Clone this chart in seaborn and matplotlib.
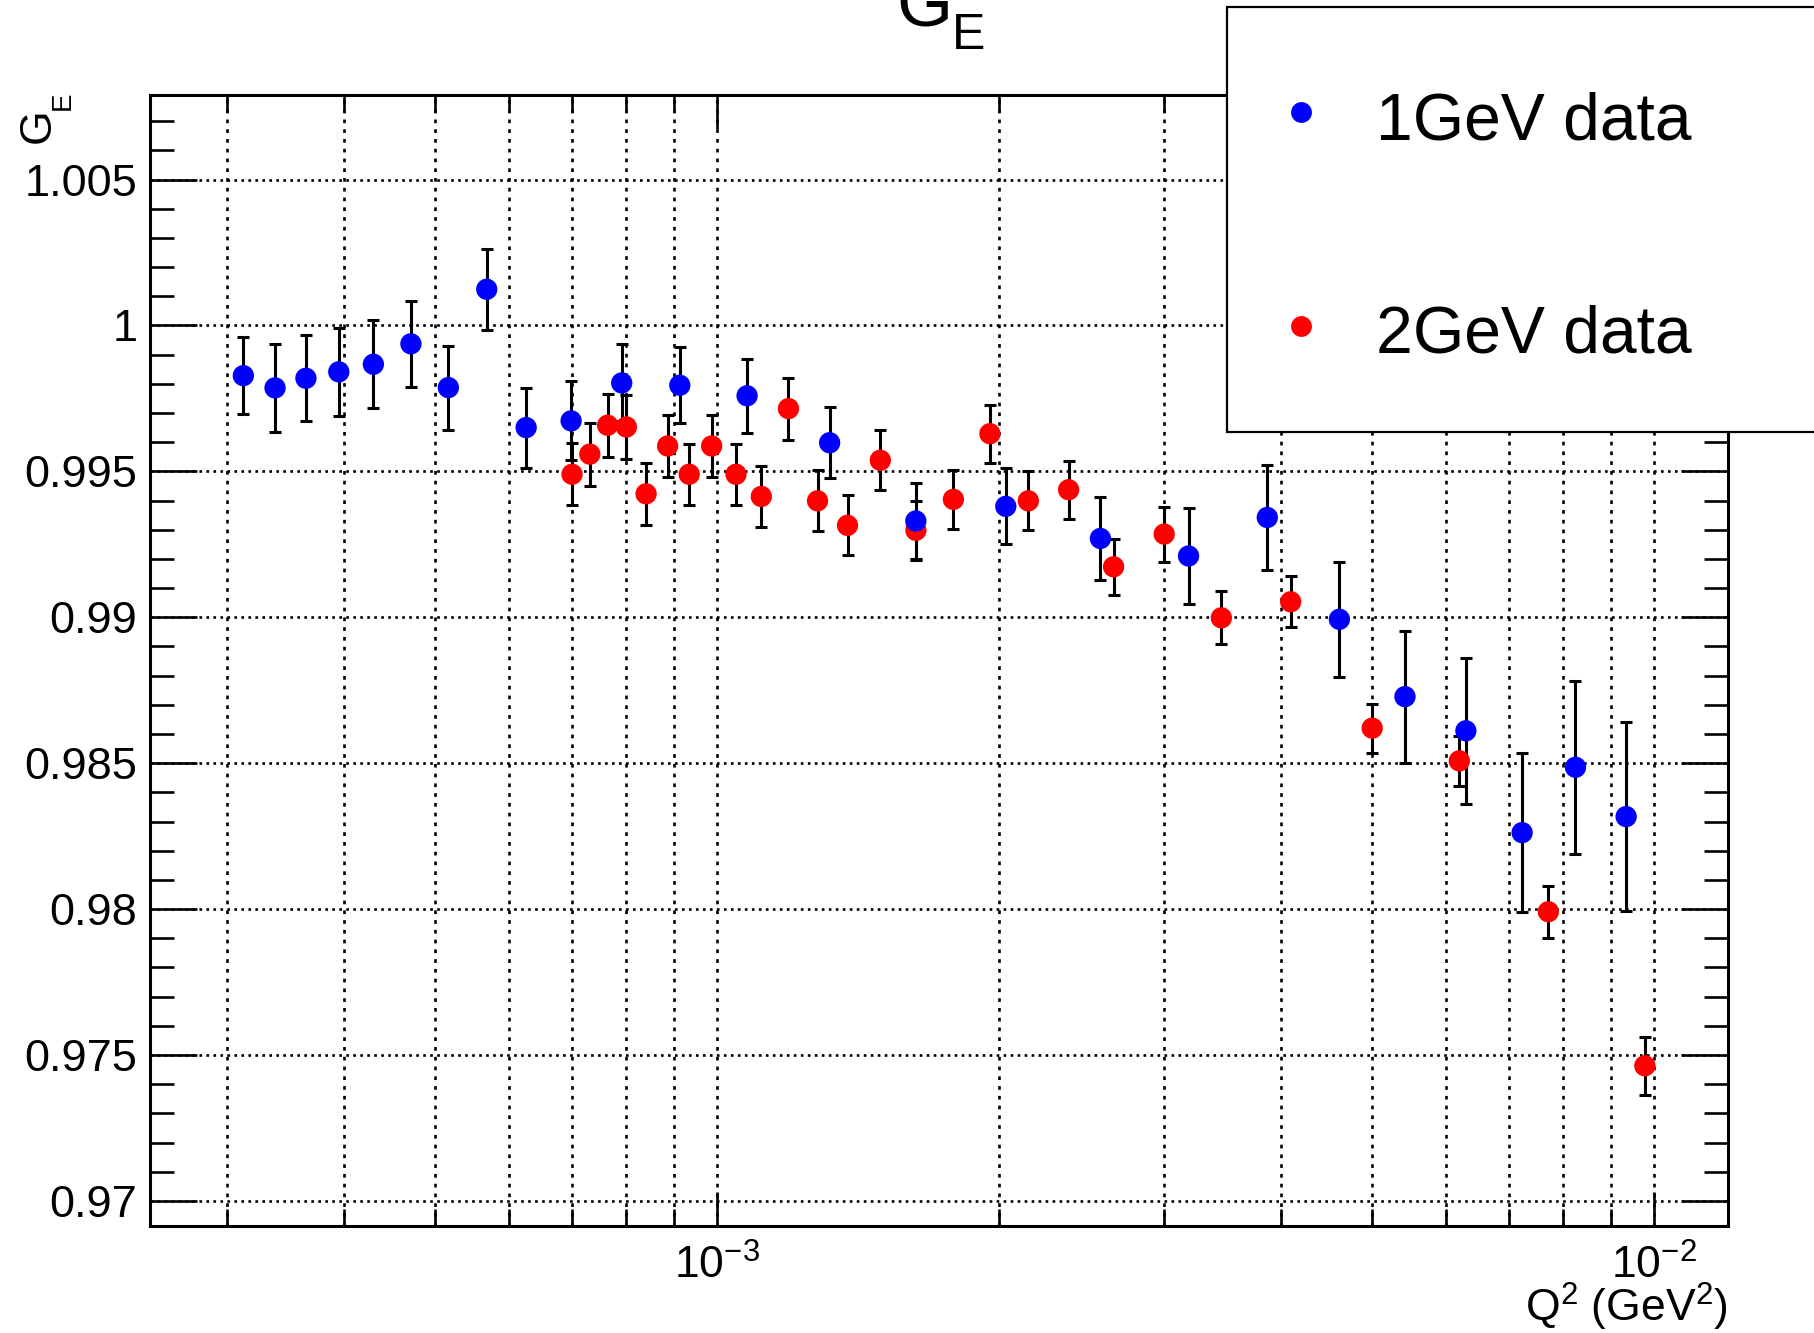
import numpy as np
import pandas as pd
import matplotlib
matplotlib.use("Agg")
import matplotlib.pyplot as plt
from matplotlib.ticker import MultipleLocator, FuncFormatter, LogLocator, NullFormatter
from matplotlib.patches import Rectangle
from matplotlib.lines import Line2D
import seaborn as sns

# ---- data -------------------------------------------------------------
series_names = ["1GeV data", "2GeV data"]
series_colors = ["#0000ff", "#ff0000"]

q2_1gev = [3.12e-4, 3.373e-4, 3.639e-4, 3.945e-4, 4.295e-4, 4.710e-4, 5.164e-4,
           5.675e-4, 6.252e-4, 6.982e-4, 7.907e-4, 9.120e-4, 1.076e-3, 1.318e-3,
           1.629e-3, 2.032e-3, 2.564e-3, 3.184e-3, 3.864e-3, 4.613e-3, 5.420e-3,
           6.295e-3, 7.228e-3, 8.241e-3, 9.333e-3]
ge_1gev = [0.99828, 0.99786, 0.99819, 0.99841, 0.99867, 0.99937, 0.99787,
           1.00124, 0.99650, 0.99673, 0.99803, 0.99795, 0.99759, 0.99598,
           0.99330, 0.99380, 0.99270, 0.99210, 0.99342, 0.98993, 0.98728,
           0.98611, 0.98262, 0.98486, 0.98317]
err_1gev = [0.00132, 0.00150, 0.00148, 0.00150, 0.00150, 0.00148, 0.00144,
            0.00139, 0.00137, 0.00135, 0.00132, 0.00130, 0.00127, 0.00121,
            0.00130, 0.00130, 0.00141, 0.00164, 0.00181, 0.00198, 0.00226,
            0.00250, 0.00272, 0.00297, 0.00324]

q2_2gev = [6.998e-4, 7.311e-4, 7.638e-4, 7.998e-4, 8.395e-4, 8.851e-4, 9.333e-4,
           9.863e-4, 1.0471e-3, 1.1143e-3, 1.1912e-3, 1.2794e-3, 1.3772e-3,
           1.4928e-3, 1.6293e-3, 1.7865e-3, 1.9543e-3, 2.1478e-3, 2.3714e-3,
           2.6485e-3, 2.9992e-3, 3.4514e-3, 4.0926e-3, 5.0003e-3, 6.1944e-3,
           7.7090e-3, 9.7724e-3]
ge_2gev = [0.99490, 0.99559, 0.99658, 0.99652, 0.99423, 0.99587, 0.99490,
           0.99587, 0.99490, 0.99414, 0.99715, 0.99399, 0.99315, 0.99538,
           0.99298, 0.99404, 0.99629, 0.99399, 0.99437, 0.99173, 0.99285,
           0.98998, 0.99053, 0.98620, 0.98508, 0.97991, 0.97463]
err_2gev = [0.00107, 0.00108, 0.00108, 0.00108, 0.00106, 0.00105, 0.00105,
            0.00105, 0.00105, 0.00105, 0.00106, 0.00104, 0.00103, 0.00103,
            0.00102, 0.00101, 0.00100, 0.00101, 0.00099, 0.00096, 0.00094,
            0.00091, 0.00088, 0.00084, 0.00085, 0.00089, 0.00100]

# 2 GeV rows first so the 1 GeV markers sit on top where they overlap
df = pd.concat([
    pd.DataFrame({"Q2": q2_2gev, "GE": ge_2gev, "err": err_2gev, "set": series_names[1]}),
    pd.DataFrame({"Q2": q2_1gev, "GE": ge_1gev, "err": err_1gev, "set": series_names[0]}),
], ignore_index=True)

# ---- style ------------------------------------------------------------
sns.set_style("ticks")
FONT = ["Liberation Sans", "DejaVu Sans"]
plt.rcParams["font.family"] = FONT
plt.rcParams["mathtext.fontset"] = "custom"
plt.rcParams["mathtext.rm"] = "Liberation Sans"
plt.rcParams["mathtext.it"] = "Liberation Sans:italic"
plt.rcParams["mathtext.bf"] = "Liberation Sans:bold"
plt.rcParams["text.color"] = "black"
plt.rcParams["axes.labelcolor"] = "black"
plt.rcParams["xtick.color"] = "black"
plt.rcParams["ytick.color"] = "black"
plt.rcParams["xtick.labelcolor"] = "black"
plt.rcParams["ytick.labelcolor"] = "black"
plt.rcParams["axes.edgecolor"] = "black"

W, H = 1814, 1333
fig = plt.figure(figsize=(W / 100, H / 100), dpi=100)


def fx(px):
    return px / W


def fy(py):
    return 1 - py / H


left, right, top, bottom = 150.4, 1728.4, 94.9, 1226.3
ax = fig.add_axes([fx(left), fy(bottom), fx(right - left), (bottom - top) / H])

palette = dict(zip(series_names, series_colors))

# error bars, black
for name in [series_names[1], series_names[0]]:
    sub = df[df["set"] == name]
    ax.errorbar(sub["Q2"], sub["GE"], yerr=sub["err"], fmt="none",
                ecolor="black", elinewidth=2.2, capsize=4.0, capthick=2.2,
                zorder=2)

sns.scatterplot(data=df, x="Q2", y="GE", hue="set", palette=palette,
                s=235, linewidth=0, legend=False, ax=ax, zorder=3)

ax.set_xscale("log")
ax.set_xlim(2.483e-4, 1.2e-2)
ax.set_ylim(0.96913, 1.0079)

ax.xaxis.set_major_locator(LogLocator(base=10, numticks=10))
ax.xaxis.set_minor_locator(LogLocator(base=10, subs=np.arange(2, 10), numticks=20))
ax.xaxis.set_minor_formatter(NullFormatter())
ax.yaxis.set_major_locator(MultipleLocator(0.005))
ax.yaxis.set_minor_locator(MultipleLocator(0.001))
ax.yaxis.set_major_formatter(FuncFormatter(lambda v, p: "%g" % round(v, 4)))

ax.set_xlabel("")
ax.set_ylabel("")

# grid: dotted, vertical at every decade subdivision, horizontal at major y
ax.grid(False)
ax.grid(True, which="both", axis="x", color="black", linewidth=1.9,
        linestyle=(0, (1.4, 2.3)))
ax.grid(True, which="major", axis="y", color="black", linewidth=1.9,
        linestyle=(0, (1.0, 1.65)))
ax.set_axisbelow(True)

for sp in ax.spines.values():
    sp.set_linewidth(2.2)
    sp.set_color("black")
    sp.set_visible(True)

ax.tick_params(axis="both", which="both", direction="in", top=True, right=True,
               color="black", width=1.9, labelcolor="black")
ax.tick_params(axis="x", which="major", length=24.5, pad=13, labelsize=32)
ax.tick_params(axis="x", which="minor", length=12.2)
ax.tick_params(axis="y", which="major", length=33.8, pad=9.4, labelsize=32.5)
ax.tick_params(axis="y", which="minor", length=17.0)

# ---- title and axis titles --------------------------------------------
fig.text(fx(896), fy(25), "G", fontsize=52, ha="left", va="baseline", color="black")
fig.text(fx(952), fy(49), "E", fontsize=36, ha="left", va="baseline", color="black")

fig.text(fx(50), fy(143), "G", fontsize=32, rotation=90, rotation_mode="anchor",
         ha="left", va="baseline", color="black")
fig.text(fx(70), fy(110), "E", fontsize=20, rotation=90, rotation_mode="anchor",
         ha="left", va="baseline", color="black")

fig.text(fx(1728), fy(1322), r"$\mathrm{Q^{2}\ (GeV^{2})}$", fontsize=32,
         ha="right", va="baseline", color="black")

# ---- legend box ---------------------------------------------------------
box = Rectangle((fx(1227), fy(432)), 0.5, (432 - 7) / H, transform=fig.transFigure,
                facecolor="white", edgecolor="black", linewidth=1.6,
                clip_on=False, zorder=5)
fig.add_artist(box)
for name, color, my, ty in zip(series_names, series_colors, [112, 326], [140, 353]):
    fig.add_artist(Line2D([fx(1301)], [fy(my)], marker="o", markersize=15,
                          markeredgewidth=0, color=color, linestyle="none",
                          transform=fig.transFigure, zorder=6))
    fig.text(fx(1376), fy(ty), name, fontsize=47.5, ha="left", va="baseline",
             color="black", zorder=6)

fig.savefig("out.png", dpi=100)
